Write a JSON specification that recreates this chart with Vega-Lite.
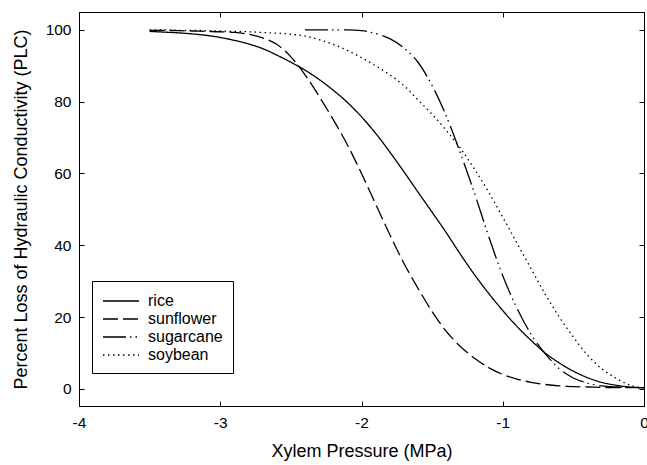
{
  "$schema": "https://vega.github.io/schema/vega-lite/v6.json",
  "width": 565,
  "height": 394,
  "autosize": {"type": "none"},
  "padding": {"left": 79, "top": 12, "right": 3, "bottom": 59},
  "background": "white",
  "config": {
    "view": {"stroke": "black", "strokeWidth": 1},
    "font": "Liberation Sans",
    "axis": {"grid": false, "domainColor": "black", "tickColor": "black", "labelColor": "black", "titleColor": "black", "labelFont": "Liberation Sans", "titleFont": "Liberation Sans", "labelFontSize": 15.5, "titleFontSize": 18, "titleFontWeight": "normal"}
  },
  "data": {"values": [
    {"s":"rice","x":-3.5,"y":99.6},{"s":"rice","x":-3.4,"y":99.4},{"s":"rice","x":-3.3,"y":99.2},{"s":"rice","x":-3.2,"y":98.9},{"s":"rice","x":-3.1,"y":98.5},{"s":"rice","x":-3.0,"y":97.9},{"s":"rice","x":-2.9,"y":97.1},{"s":"rice","x":-2.8,"y":96.1},{"s":"rice","x":-2.7,"y":94.8},{"s":"rice","x":-2.6,"y":93.0},{"s":"rice","x":-2.5,"y":91.0},{"s":"rice","x":-2.4,"y":88.8},{"s":"rice","x":-2.3,"y":86.2},{"s":"rice","x":-2.2,"y":83.2},{"s":"rice","x":-2.1,"y":79.8},{"s":"rice","x":-2.0,"y":75.8},{"s":"rice","x":-1.9,"y":71.2},{"s":"rice","x":-1.8,"y":66.0},{"s":"rice","x":-1.7,"y":60.5},{"s":"rice","x":-1.6,"y":54.8},{"s":"rice","x":-1.5,"y":49.2},{"s":"rice","x":-1.4,"y":43.5},{"s":"rice","x":-1.3,"y":37.5},{"s":"rice","x":-1.2,"y":31.8},{"s":"rice","x":-1.1,"y":26.6},{"s":"rice","x":-1.0,"y":21.8},{"s":"rice","x":-0.9,"y":17.4},{"s":"rice","x":-0.8,"y":13.5},{"s":"rice","x":-0.7,"y":10.0},{"s":"rice","x":-0.6,"y":7.2},{"s":"rice","x":-0.5,"y":4.9},{"s":"rice","x":-0.4,"y":3.1},{"s":"rice","x":-0.3,"y":1.8},{"s":"rice","x":-0.2,"y":1.0},{"s":"rice","x":-0.1,"y":0.5},{"s":"rice","x":0.0,"y":0.3},
    {"s":"sunflower","x":-3.5,"y":99.9},{"s":"sunflower","x":-3.4,"y":99.9},{"s":"sunflower","x":-3.3,"y":99.8},{"s":"sunflower","x":-3.2,"y":99.7},{"s":"sunflower","x":-3.1,"y":99.6},{"s":"sunflower","x":-3.0,"y":99.5},{"s":"sunflower","x":-2.9,"y":99.3},{"s":"sunflower","x":-2.8,"y":98.8},{"s":"sunflower","x":-2.7,"y":97.8},{"s":"sunflower","x":-2.6,"y":96.0},{"s":"sunflower","x":-2.5,"y":92.5},{"s":"sunflower","x":-2.4,"y":87.5},{"s":"sunflower","x":-2.3,"y":81.5},{"s":"sunflower","x":-2.2,"y":75.0},{"s":"sunflower","x":-2.1,"y":68.0},{"s":"sunflower","x":-2.0,"y":60.0},{"s":"sunflower","x":-1.9,"y":51.5},{"s":"sunflower","x":-1.8,"y":43.0},{"s":"sunflower","x":-1.7,"y":35.0},{"s":"sunflower","x":-1.6,"y":28.0},{"s":"sunflower","x":-1.5,"y":21.5},{"s":"sunflower","x":-1.4,"y":16.0},{"s":"sunflower","x":-1.3,"y":11.8},{"s":"sunflower","x":-1.2,"y":8.5},{"s":"sunflower","x":-1.1,"y":5.9},{"s":"sunflower","x":-1.0,"y":4.0},{"s":"sunflower","x":-0.9,"y":2.7},{"s":"sunflower","x":-0.8,"y":1.8},{"s":"sunflower","x":-0.7,"y":1.2},{"s":"sunflower","x":-0.6,"y":0.8},{"s":"sunflower","x":-0.5,"y":0.6},{"s":"sunflower","x":-0.4,"y":0.5},{"s":"sunflower","x":-0.3,"y":0.4},{"s":"sunflower","x":-0.2,"y":0.3},{"s":"sunflower","x":-0.1,"y":0.3},{"s":"sunflower","x":0.0,"y":0.3},
    {"s":"sugarcane","x":-2.4,"y":100},{"s":"sugarcane","x":-2.3,"y":100},{"s":"sugarcane","x":-2.2,"y":100},{"s":"sugarcane","x":-2.1,"y":100},{"s":"sugarcane","x":-2.0,"y":99.8},{"s":"sugarcane","x":-1.9,"y":99.0},{"s":"sugarcane","x":-1.8,"y":97.6},{"s":"sugarcane","x":-1.7,"y":95.0},{"s":"sugarcane","x":-1.6,"y":91.0},{"s":"sugarcane","x":-1.5,"y":84.5},{"s":"sugarcane","x":-1.4,"y":76.0},{"s":"sugarcane","x":-1.3,"y":65.7},{"s":"sugarcane","x":-1.2,"y":54.5},{"s":"sugarcane","x":-1.1,"y":42.5},{"s":"sugarcane","x":-1.0,"y":31.5},{"s":"sugarcane","x":-0.9,"y":22.5},{"s":"sugarcane","x":-0.8,"y":15.2},{"s":"sugarcane","x":-0.7,"y":9.8},{"s":"sugarcane","x":-0.6,"y":5.6},{"s":"sugarcane","x":-0.5,"y":3.0},{"s":"sugarcane","x":-0.4,"y":1.6},{"s":"sugarcane","x":-0.3,"y":0.8},{"s":"sugarcane","x":-0.2,"y":0.5},{"s":"sugarcane","x":-0.1,"y":0.4},{"s":"sugarcane","x":0.0,"y":0.3},
    {"s":"soybean","x":-3.5,"y":100},{"s":"soybean","x":-3.4,"y":100},{"s":"soybean","x":-3.3,"y":99.9},{"s":"soybean","x":-3.2,"y":99.9},{"s":"soybean","x":-3.1,"y":99.8},{"s":"soybean","x":-3.0,"y":99.7},{"s":"soybean","x":-2.9,"y":99.6},{"s":"soybean","x":-2.8,"y":99.5},{"s":"soybean","x":-2.7,"y":99.3},{"s":"soybean","x":-2.6,"y":99.1},{"s":"soybean","x":-2.5,"y":98.8},{"s":"soybean","x":-2.4,"y":98.3},{"s":"soybean","x":-2.3,"y":97.3},{"s":"soybean","x":-2.2,"y":96.0},{"s":"soybean","x":-2.1,"y":94.3},{"s":"soybean","x":-2.0,"y":92.3},{"s":"soybean","x":-1.9,"y":90.0},{"s":"soybean","x":-1.8,"y":87.5},{"s":"soybean","x":-1.7,"y":84.5},{"s":"soybean","x":-1.6,"y":80.5},{"s":"soybean","x":-1.5,"y":76.5},{"s":"soybean","x":-1.4,"y":72.0},{"s":"soybean","x":-1.3,"y":67.0},{"s":"soybean","x":-1.2,"y":61.2},{"s":"soybean","x":-1.1,"y":54.8},{"s":"soybean","x":-1.0,"y":47.8},{"s":"soybean","x":-0.9,"y":40.6},{"s":"soybean","x":-0.8,"y":33.5},{"s":"soybean","x":-0.7,"y":26.4},{"s":"soybean","x":-0.6,"y":20.0},{"s":"soybean","x":-0.5,"y":14.4},{"s":"soybean","x":-0.4,"y":9.4},{"s":"soybean","x":-0.3,"y":5.6},{"s":"soybean","x":-0.2,"y":3.0},{"s":"soybean","x":-0.1,"y":1.0},{"s":"soybean","x":0.0,"y":0.2}
  ]},
  "layer": [
    {
      "mark": {"type": "line", "color": "black", "strokeWidth": 1.3, "interpolate": "monotone", "clip": true},
      "encoding": {
        "x": {"field": "x", "type": "quantitative", "scale": {"domain": [-4, 0], "nice": false, "zero": false},
              "axis": {"orient": "bottom", "title": "Xylem Pressure (MPa)", "values": [-4, -3, -2, -1, 0], "labelExpr": "'' + datum.value", "tickSize": -5, "labelPadding": 14, "titlePadding": 12, "labelFlush": false, "labelOverlap": false}},
        "y": {"field": "y", "type": "quantitative", "scale": {"domain": [-4.8, 105], "nice": false, "zero": false},
              "axis": {"orient": "left", "title": "Percent Loss of Hydraulic Conductivity (PLC)", "values": [0, 20, 40, 60, 80, 100], "tickSize": -5, "labelPadding": 13, "titlePadding": 15}},
        "strokeDash": {"field": "s", "type": "nominal",
              "scale": {"domain": ["rice", "sunflower", "sugarcane", "soybean"], "range": [[1, 0], [15, 5], [23, 4, 1.5, 4, 1.5, 5], [1.5, 3.5]]},
              "legend": {"title": null, "orient": "none", "legendX": 13, "legendY": 269, "padding": 10, "strokeColor": "black", "fillColor": "white",
                         "symbolType": "M-1,0H3", "symbolSize": 324, "symbolStrokeWidth": 1.3, "symbolStrokeColor": "black",
                         "labelFontSize": 16, "labelFont": "Liberation Sans", "labelColor": "black", "labelOffset": 26, "rowPadding": 0}}
      }
    },
    {
      "mark": {"type": "point", "opacity": 0},
      "encoding": {
        "x": {"field": "x", "type": "quantitative", "axis": {"orient": "top", "title": null, "labels": false, "values": [-4, -3, -2, -1, 0], "tickSize": -5}},
        "y": {"field": "y", "type": "quantitative", "axis": {"orient": "right", "title": null, "labels": false, "values": [0, 20, 40, 60, 80, 100], "tickSize": -5}}
      }
    }
  ],
  "resolve": {"axis": {"x": "independent", "y": "independent"}}
}
